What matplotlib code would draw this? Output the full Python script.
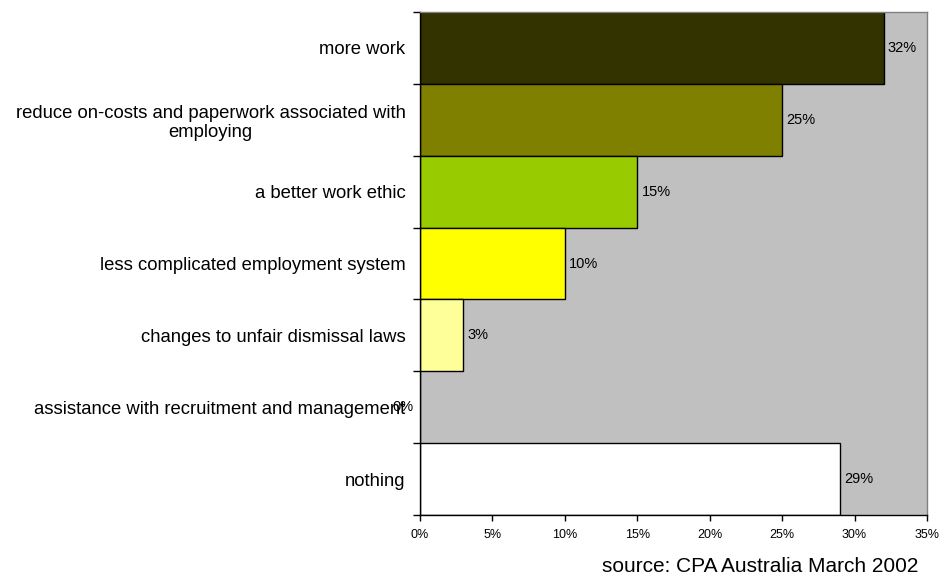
import matplotlib
matplotlib.use("Agg")
import matplotlib.pyplot as plt
import numpy as np

categories = [
    "more work",
    "reduce on-costs and paperwork associated with\nemploying",
    "a better work ethic",
    "less complicated employment system",
    "changes to unfair dismissal laws",
    "assistance with recruitment and management",
    "nothing",
]
values = [32, 25, 15, 10, 3, 0, 29]
colors = ["#333300", "#808000", "#99CC00", "#FFFF00", "#FFFF99", "#FFFFFF", "#FFFFFF"]
xticks = [0, 5, 10, 15, 20, 25, 30, 35]
xticklabels = ["0%", "5%", "10%", "15%", "20%", "25%", "30%", "35%"]

plt.rcParams['font.family'] = ['Liberation Sans', 'DejaVu Sans']

fig = plt.figure(figsize=(9.39, 5.78), dpi=100)
ax = fig.add_axes([420/939, 1-515/578, (927-420)/939, (515-12)/578])
ax.set_facecolor("#C0C0C0")

n = len(categories)
y = np.arange(n)
ax.barh(y, values, height=1.0, color=colors, edgecolor="black", linewidth=1.0, zorder=3)
ax.set_ylim(n-0.5, -0.5)
ax.set_xlim(0, 35)

for yi, v in zip(y, values):
    if v == 0:
        ax.annotate(f"{v}%", (v, yi), xytext=(-5, 0), textcoords="offset points",
                    ha="right", va="center", fontsize=10.5)
    else:
        ax.annotate(f"{v}%", (v, yi), xytext=(3, 0), textcoords="offset points",
                    ha="left", va="center", fontsize=10.5)

ax.set_yticks(np.arange(n+1) - 0.5)
ax.set_yticklabels([])
ax.set_yticks(y, minor=True)
ax.set_yticklabels(categories, minor=True, fontsize=13.3, ha="right", multialignment="center")
ax.tick_params(axis="y", which="major", direction="out", length=5, width=1)
ax.tick_params(axis="y", which="minor", length=0, pad=10.5)

ax.set_xticks(xticks)
ax.set_xticklabels(xticklabels, fontsize=9)
ax.tick_params(axis="x", direction="out", length=4, width=1, pad=6)

ax.spines["left"].set_color("black")
ax.spines["bottom"].set_color("black")
ax.spines["top"].set_color("#808080")
ax.spines["right"].set_color("#808080")
for s in ax.spines.values():
    s.set_linewidth(1.0)
    s.set_zorder(4)

fig.text(918/939, 1-567/578, "source: CPA Australia March 2002", ha="right", va="center", fontsize=15)

fig.savefig("out.png", dpi=100)
